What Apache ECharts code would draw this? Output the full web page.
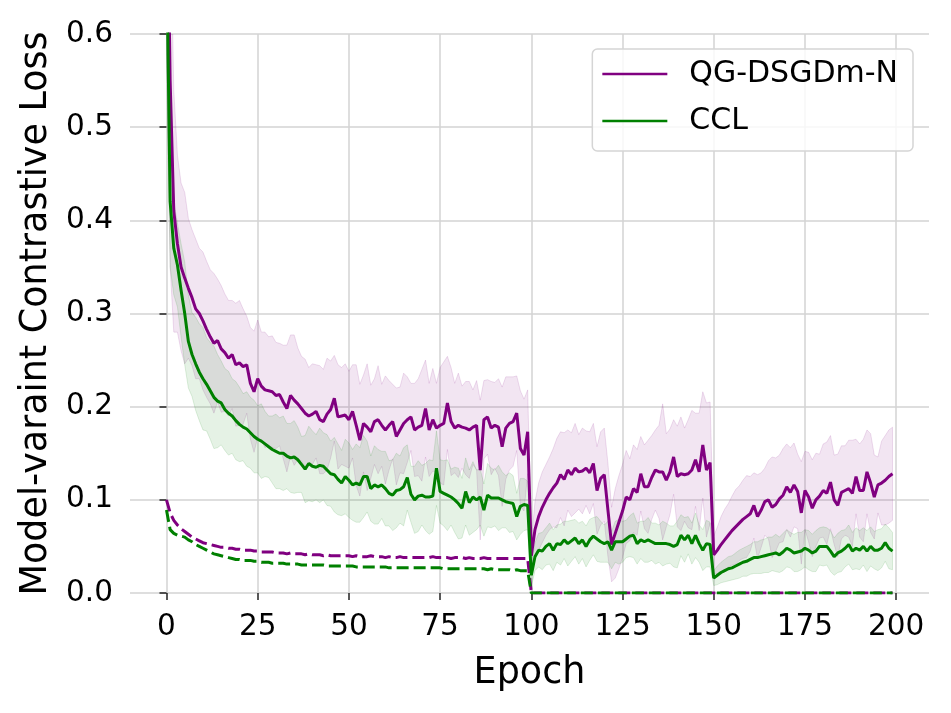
<!DOCTYPE html>
<html>
<head>
    <meta charset="UTF-8">
    <title>Model-varaint Contrastive Loss</title>
    <script type="text/javascript" src="https://cdn.jsdelivr.net/npm/echarts@6.0.0/dist/echarts.min.js"></script>
    <style>
        body,html{
            margin: 0;
            padding: 0;
            width: 951px;
            height: 713px;
            background: #fff;
        }
        #chart{
            width: 951px;
            height: 713px;
        }
    </style>
</head>
<body>
<div id="chart"></div>
<script>
    // x ticks
    var xTicks = [0, 25, 50, 75, 100, 125, 150, 175, 200];

    // QG-DSGDm-N, solid line (mean) and half width of the shaded band
    var pMean = [
        0.83,0.55,0.41,0.375,0.35,0.338,0.327,0.317,0.305,0.300,
        0.292,0.283,0.275,0.268,0.271,0.262,0.258,0.252,0.256,0.245,
        0.247,0.243,0.245,0.225,0.216,0.230,0.222,0.218,0.217,0.216,
        0.212,0.213,0.205,0.198,0.212,0.207,0.203,0.198,0.193,0.190,
        0.192,0.195,0.186,0.184,0.192,0.197,0.209,0.189,0.190,0.191,
        0.186,0.195,0.180,0.164,0.182,0.178,0.173,0.184,0.186,0.180,
        0.175,0.180,0.184,0.168,0.175,0.182,0.186,0.189,0.175,0.178,
        0.180,0.198,0.175,0.186,0.177,0.180,0.182,0.204,0.184,0.177,
        0.180,0.178,0.177,0.175,0.178,0.180,0.132,0.186,0.189,0.177,
        0.180,0.178,0.157,0.177,0.182,0.184,0.193,0.155,0.148,0.173,
        0.040,0.068,0.082,0.092,0.100,0.107,0.113,0.118,0.127,0.122,
        0.132,0.127,0.134,0.130,0.131,0.134,0.129,0.139,0.110,0.123,
        0.127,0.089,0.052,0.064,0.076,0.088,0.103,0.100,0.112,0.108,
        0.128,0.114,0.114,0.124,0.132,0.130,0.130,0.121,0.130,0.146,
        0.125,0.128,0.127,0.128,0.132,0.143,0.130,0.159,0.132,0.140,
        0.041,0.046,0.052,0.057,0.062,0.067,0.071,0.075,0.079,0.082,
        0.085,0.094,0.082,0.089,0.098,0.100,0.092,0.095,0.101,0.105,
        0.114,0.108,0.116,0.109,0.086,0.110,0.103,0.091,0.100,0.104,
        0.110,0.107,0.119,0.100,0.094,0.108,0.110,0.112,0.107,0.125,
        0.110,0.110,0.130,0.118,0.103,0.116,0.118,0.121,0.125,0.128
    ];
    var pSpread = [
        0.25,0.20,0.13,0.095,0.09,0.092,0.075,0.073,0.075,0.070,
        0.074,0.073,0.072,0.075,0.066,0.068,0.063,0.062,0.058,0.066,
        0.067,0.062,0.052,0.060,0.065,0.063,0.058,0.062,0.058,0.060,
        0.057,0.055,0.061,0.068,0.065,0.070,0.060,0.056,0.058,0.052,
        0.054,0.050,0.058,0.056,0.060,0.052,0.046,0.056,0.052,0.055,
        0.052,0.050,0.065,0.060,0.052,0.068,0.050,0.046,0.058,0.044,
        0.058,0.048,0.040,0.052,0.046,0.054,0.046,0.036,0.050,0.052,
        0.060,0.052,0.050,0.055,0.048,0.062,0.066,0.050,0.058,0.048,
        0.056,0.044,0.050,0.052,0.040,0.048,0.075,0.042,0.040,0.050,
        0.046,0.052,0.064,0.055,0.050,0.048,0.040,0.062,0.060,0.045,
        0.015,0.030,0.036,0.038,0.038,0.039,0.042,0.048,0.046,0.050,
        0.043,0.045,0.048,0.040,0.046,0.040,0.044,0.043,0.047,0.050,
        0.050,0.050,0.040,0.048,0.050,0.050,0.050,0.044,0.047,0.046,
        0.040,0.045,0.050,0.045,0.043,0.050,0.073,0.050,0.046,0.040,
        0.054,0.061,0.050,0.058,0.064,0.050,0.063,0.057,0.072,0.065,
        0.020,0.025,0.030,0.033,0.034,0.037,0.040,0.040,0.042,0.044,
        0.040,0.035,0.045,0.040,0.036,0.042,0.054,0.050,0.047,0.050,
        0.046,0.048,0.045,0.040,0.055,0.042,0.048,0.052,0.050,0.045,
        0.050,0.055,0.050,0.048,0.055,0.050,0.048,0.052,0.057,0.040,
        0.050,0.055,0.045,0.053,0.045,0.030,0.045,0.048,0.050,0.050
    ];

    // CCL, solid line (mean) and half width of the shaded band
    var gMean = [
        0.70,0.42,0.37,0.352,0.325,0.300,0.270,0.256,0.246,0.237,
        0.230,0.224,0.217,0.210,0.206,0.204,0.197,0.193,0.190,0.185,
        0.181,0.178,0.176,0.172,0.168,0.165,0.163,0.160,0.157,0.154,
        0.152,0.150,0.150,0.147,0.145,0.146,0.143,0.138,0.133,0.139,
        0.136,0.135,0.137,0.136,0.132,0.128,0.127,0.122,0.118,0.125,
        0.121,0.116,0.118,0.116,0.125,0.125,0.112,0.116,0.114,0.116,
        0.112,0.107,0.105,0.110,0.111,0.114,0.124,0.106,0.100,0.104,
        0.105,0.103,0.103,0.104,0.134,0.109,0.107,0.105,0.103,0.100,
        0.096,0.091,0.109,0.097,0.103,0.100,0.103,0.089,0.105,0.102,
        0.102,0.102,0.100,0.098,0.097,0.096,0.082,0.093,0.095,0.094,
        0.019,0.039,0.046,0.045,0.050,0.053,0.046,0.053,0.052,0.057,
        0.053,0.056,0.059,0.053,0.057,0.050,0.057,0.061,0.058,0.055,
        0.053,0.055,0.046,0.055,0.055,0.055,0.058,0.061,0.062,0.053,
        0.057,0.055,0.057,0.055,0.053,0.053,0.053,0.053,0.052,0.050,
        0.052,0.062,0.057,0.062,0.053,0.062,0.053,0.046,0.053,0.052,
        0.016,0.019,0.022,0.024,0.026,0.027,0.029,0.031,0.033,0.034,
        0.036,0.038,0.038,0.039,0.040,0.041,0.042,0.043,0.041,0.044,
        0.048,0.046,0.043,0.044,0.045,0.048,0.046,0.043,0.045,0.050,
        0.050,0.050,0.045,0.039,0.043,0.045,0.048,0.052,0.045,0.048,
        0.046,0.050,0.045,0.050,0.046,0.046,0.048,0.054,0.048,0.045
    ];
    var gSpread = [
        0.12,0.07,0.05,0.045,0.05,0.055,0.05,0.045,0.05,0.052,
        0.055,0.05,0.052,0.055,0.05,0.045,0.044,0.045,0.04,0.042,
        0.04,0.036,0.04,0.038,0.039,0.036,0.04,0.035,0.033,0.036,
        0.04,0.038,0.04,0.035,0.037,0.039,0.035,0.03,0.036,0.04,
        0.038,0.035,0.04,0.036,0.038,0.035,0.04,0.038,0.035,0.04,
        0.04,0.038,0.042,0.04,0.044,0.038,0.035,0.042,0.04,0.036,
        0.04,0.035,0.038,0.04,0.036,0.042,0.035,0.03,0.036,0.038,
        0.032,0.036,0.04,0.038,0.04,0.034,0.035,0.038,0.03,0.035,
        0.038,0.032,0.036,0.035,0.038,0.032,0.03,0.028,0.034,0.032,
        0.03,0.035,0.03,0.028,0.032,0.03,0.025,0.03,0.028,0.026,
        0.012,0.015,0.018,0.02,0.02,0.022,0.022,0.02,0.022,0.02,
        0.024,0.022,0.02,0.022,0.02,0.022,0.022,0.02,0.024,0.022,
        0.02,0.022,0.02,0.022,0.024,0.022,0.02,0.022,0.024,0.022,
        0.02,0.022,0.024,0.02,0.022,0.02,0.024,0.022,0.02,0.022,
        0.025,0.022,0.024,0.02,0.022,0.024,0.02,0.022,0.025,0.024,
        0.008,0.01,0.011,0.012,0.013,0.013,0.014,0.015,0.015,0.016,
        0.016,0.017,0.017,0.018,0.018,0.019,0.018,0.02,0.019,0.02,
        0.02,0.019,0.02,0.021,0.02,0.02,0.021,0.02,0.022,0.02,
        0.021,0.02,0.022,0.02,0.021,0.022,0.02,0.021,0.02,0.022,
        0.021,0.02,0.022,0.021,0.02,0.022,0.021,0.02,0.022,0.02
    ];

    // dashed curves, epochs 0-99
    var pDashHead = [
        0.100,0.086,0.078,0.073,0.069,0.066,0.063,0.060,0.058,0.056,
        0.054,0.053,0.052,0.051,0.050,0.049,0.049,0.048,0.048,0.047,
        0.047,0.046,0.046,0.046,0.045,0.045,0.044,0.044,0.044,0.044,
        0.043,0.043,0.043,0.042,0.043,0.042,0.042,0.042,0.041,0.042,
        0.041,0.041,0.041,0.040,0.041,0.040,0.040,0.040,0.040,0.040,
        0.040,0.039,0.040,0.039,0.039,0.039,0.040,0.039,0.039,0.039,
        0.038,0.039,0.038,0.038,0.039,0.038,0.038,0.038,0.038,0.038,
        0.038,0.038,0.038,0.039,0.038,0.038,0.038,0.038,0.037,0.038,
        0.038,0.038,0.037,0.038,0.037,0.037,0.037,0.038,0.037,0.037,
        0.037,0.037,0.037,0.037,0.037,0.037,0.037,0.037,0.037,0.037
    ];
    var gDashHead = [
        0.089,0.068,0.064,0.062,0.061,0.060,0.057,0.055,0.052,0.050,
        0.048,0.046,0.044,0.042,0.041,0.040,0.039,0.038,0.037,0.036,
        0.036,0.035,0.035,0.035,0.034,0.034,0.033,0.033,0.033,0.032,
        0.032,0.032,0.032,0.031,0.031,0.031,0.031,0.030,0.030,0.030,
        0.030,0.030,0.030,0.030,0.029,0.029,0.029,0.029,0.029,0.029,
        0.029,0.029,0.028,0.028,0.028,0.028,0.028,0.028,0.028,0.028,
        0.028,0.027,0.027,0.027,0.027,0.027,0.027,0.027,0.027,0.027,
        0.027,0.027,0.027,0.027,0.027,0.027,0.026,0.026,0.026,0.026,
        0.026,0.026,0.026,0.026,0.026,0.026,0.026,0.026,0.025,0.026,
        0.025,0.025,0.025,0.025,0.025,0.024,0.025,0.024,0.024,0.024
    ];
    // dashed curves, epochs 100-199 (both sit on zero)
    var dashTail = [
        0,0,0,0,0,0,0,0,0,0,
        0,0,0,0,0,0,0,0,0,0,
        0,0,0,0,0,0,0,0,0,0,
        0,0,0,0,0,0,0,0,0,0,
        0,0,0,0,0,0,0,0,0,0,
        0,0,0,0,0,0,0,0,0,0,
        0,0,0,0,0,0,0,0,0,0,
        0,0,0,0,0,0,0,0,0,0,
        0,0,0,0,0,0,0,0,0,0,
        0,0,0,0,0,0,0,0,0,0
    ];
    var pDash = pDashHead.concat(dashTail);
    var gDash = gDashHead.concat(dashTail);

    var epochs = [];
    for (var i = 0; i < pMean.length; i++) {
        epochs.push(i);
    }

    var PURPLE = '#800080';
    var GREEN = '#008000';

    function pts(ys) {
        return epochs.map(function (e, i) { return [e, ys[i]]; });
    }

    // shaded band mean +- spread, drawn as one polygon through the axes
    function band(name, mean, spread, fill, stroke) {
        var lo = mean.map(function (v, i) { return v - spread[i]; });
        var hi = mean.map(function (v, i) { return v + spread[i]; });
        return {
            name: name,
            type: 'custom',
            silent: true,
            z: 1,
            data: epochs.map(function (e, i) { return [e, lo[i], hi[i]]; }),
            encode: {x: 0, y: [1, 2]},
            renderItem: function (params, api) {
                if (params.dataIndex !== 0) return null;
                var top = [], bot = [];
                for (var k = 0; k < epochs.length; k++) {
                    top.push(api.coord([epochs[k], hi[k]]));
                    bot.push(api.coord([epochs[k], lo[k]]));
                }
                var cs = params.coordSys;
                return {
                    type: 'polygon',
                    shape: {points: top.concat(bot.reverse())},
                    style: {fill: fill, stroke: stroke, lineWidth: 1},
                    clipPath: {type: 'rect', shape: {x: cs.x, y: cs.y, width: cs.width, height: cs.height}}
                };
            }
        };
    }

    function line(name, ys, color, dashed, z) {
        return {
            name: name,
            type: 'line',
            data: pts(ys),
            showSymbol: false,
            symbol: 'none',
            z: z,
            clip: true,
            lineStyle: {color: color, width: 3, type: dashed ? [12, 5] : 'solid', cap: 'butt'},
            itemStyle: {color: color}
        };
    }

    var chart = echarts.init(document.getElementById('chart'));
    var option = {
        animation: false,
        textStyle: {fontFamily: 'DejaVu Sans'},
        grid: {left: 130, right: 22, top: 34, bottom: 120, containLabel: false},
        legend: {
            data: ['QG-DSGDm-N', 'CCL'],
            orient: 'vertical',
            right: 38,
            top: 49,
            icon: 'rect',
            itemWidth: 65,
            itemHeight: 2.5,
            itemGap: 17,
            padding: [10, 15, 15, 10],
            backgroundColor: 'rgba(255,255,255,0.8)',
            borderColor: '#d5d5d5',
            borderWidth: 1.5,
            borderRadius: 5,
            textStyle: {fontSize: 30, color: '#000', padding: [0, 0, 0, 17]}
        },
        xAxis: {
            type: 'value',
            min: -10,
            max: 209,
            offset: 10,
            name: 'Epoch',
            nameLocation: 'middle',
            nameGap: 52,
            nameTextStyle: {fontSize: 36.5, color: '#000'},
            axisLine: {show: false},
            axisTick: {show: true, length: 7, customValues: xTicks, lineStyle: {color: '#222', width: 1.5}},
            axisLabel: {customValues: xTicks, fontSize: 29.5, color: '#000', margin: 9},
            splitLine: {show: true, lineStyle: {color: '#d3d3d3', width: 1.5}}
        },
        yAxis: {
            type: 'value',
            min: 0,
            max: 0.6,
            interval: 0.1,
            name: 'Model-varaint Contrastive Loss',
            nameLocation: 'middle',
            nameGap: 68,
            nameTextStyle: {fontSize: 36.5, color: '#000'},
            axisLine: {show: false},
            axisTick: {show: true, length: 7, lineStyle: {color: '#222', width: 1.5}},
            axisLabel: {fontSize: 29.5, color: '#000', margin: 17, formatter: function (v) { return v.toFixed(1); }},
            splitLine: {show: true, lineStyle: {color: '#d3d3d3', width: 1.5}}
        },
        series: [
            band('QG-DSGDm-N band', pMean, pSpread, 'rgba(128,0,128,0.1)', 'rgba(128,0,128,0.13)'),
            band('CCL band', gMean, gSpread, 'rgba(0,128,0,0.1)', 'rgba(0,128,0,0.13)'),
            line('QG-DSGDm-N dashed', pDash, PURPLE, true, 3),
            line('CCL dashed', gDash, GREEN, true, 4),
            line('QG-DSGDm-N', pMean, PURPLE, false, 5),
            line('CCL', gMean, GREEN, false, 6)
        ]
    };
    chart.setOption(option);
</script>
</body>
</html>
